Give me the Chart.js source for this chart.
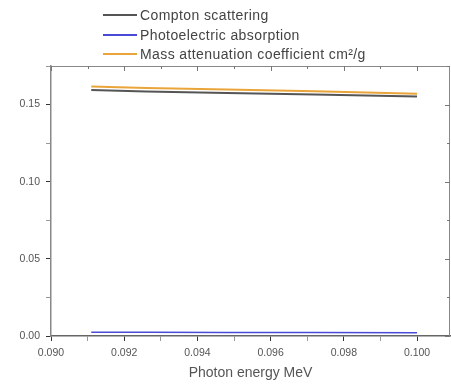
<!DOCTYPE html>
<html>
<head>
<meta charset="utf-8">
<script src="https://cdn.jsdelivr.net/npm/chart.js@4"></script>
<style>
  html, body { margin: 0; padding: 0; background: #fff; }
  #wrap { position: relative; width: 451px; height: 386px; }
  #legend { position: absolute; left: 103px; top: 6px; font-family: 'Liberation Sans', Arial, sans-serif; font-size: 14px; letter-spacing: 0.4px; color: #444; }
  #legend div { height: 19.5px; line-height: 19.5px; white-space: nowrap; }
  #legend span.ln { display: inline-block; width: 34px; height: 2px; vertical-align: middle; margin-right: 3px; position: relative; top: -1px; }
</style>
</head>
<body>
<div id="wrap">
  <canvas id="chart" width="451" height="386"></canvas>
  <div id="legend"></div>
</div>
<script>
const energy = [0.0911, 0.0926, 0.0948, 0.0972, 0.1000];
const compton = [0.1595, 0.1585, 0.1575, 0.1565, 0.1552];
const photoelectric = [0.0025, 0.0024, 0.0023, 0.0022, 0.0021];
const massAtten = [0.1617, 0.1608, 0.1598, 0.1586, 0.1570];

const seriesNames = ['Compton scattering', 'Photoelectric absorption', 'Mass attenuation coefficient cm²/g'];
const seriesColors = ['#555555', '#4a4ad8', '#eaa53a'];

const xTicks = [0.090, 0.092, 0.094, 0.096, 0.098, 0.100];
const yTicks = [0.00, 0.05, 0.10, 0.15];

function pts(ys) {
  return energy.map((x, i) => ({ x: x, y: ys[i] }));
}

document.addEventListener('DOMContentLoaded', () => {
  const legend = document.getElementById('legend');
  seriesNames.forEach((name, i) => {
    legend.insertAdjacentHTML('beforeend',
      `<div><span class="ln" style="background-color:${seriesColors[i]}"></span>${name}</div>`);
  });
  drawChart();
});

// frame round the plot area with top/right ticks
const framePlugin = {
  id: 'frame',
  afterDraw(chart) {
    const { ctx, chartArea: a, scales } = chart;
    ctx.save();
    ctx.strokeStyle = '#888';
    ctx.lineWidth = 1;
    ctx.beginPath();
    ctx.moveTo(a.left, a.top + 0.5);
    ctx.lineTo(a.right, a.top + 0.5);
    ctx.moveTo(a.right - 0.5, a.top);
    ctx.lineTo(a.right - 0.5, a.bottom);
    ctx.stroke();
    ctx.strokeStyle = '#777';
    ctx.beginPath();
    scales.x.ticks.forEach(t => {
      const px = Math.round(scales.x.getPixelForValue(t.value)) + 0.5;
      const major = isMajor(xTicks, t.value);
      ctx.moveTo(px, a.top);
      ctx.lineTo(px, a.top + (major ? 5 : 3));
    });
    scales.y.ticks.forEach(t => {
      const py = Math.round(scales.y.getPixelForValue(t.value)) + 0.5;
      const major = isMajor(yTicks, t.value);
      ctx.moveTo(a.right, py);
      ctx.lineTo(a.right - (major ? 5 : 3), py);
    });
    ctx.stroke();
    ctx.restore();
  }
};

function isMajor(list, v) {
  return list.some(t => Math.abs(t - v) < 1e-6);
}

function drawChart() {
  const ctx = document.getElementById('chart').getContext('2d');
  new Chart(ctx, {
    type: 'line',
    data: {
      datasets: [
        { label: seriesNames[0], data: pts(compton), borderColor: seriesColors[0], borderWidth: 2, pointRadius: 0, tension: 0 },
        { label: seriesNames[1], data: pts(photoelectric), borderColor: seriesColors[1], borderWidth: 1.5, pointRadius: 0, tension: 0 },
        { label: seriesNames[2], data: pts(massAtten), borderColor: seriesColors[2], borderWidth: 2, pointRadius: 0, tension: 0 }
      ]
    },
    options: {
      responsive: false,
      animation: false,
      layout: { padding: { top: 66, right: 1, left: 0, bottom: 0 } },
      plugins: { legend: { display: false }, tooltip: { enabled: false } },
      scales: {
        x: {
          type: 'linear',
          min: 0.090,
          max: 0.1009,
          afterFit: s => { s.height = 50; },
          border: { color: '#666', width: 1.5 },
          grid: {
            drawOnChartArea: false,
            tickLength: 5,
            tickColor: c => isMajor(xTicks, c.tick.value) ? '#333' : '#999'
          },
          ticks: {
            stepSize: 0.001,
            includeBounds: false,
            maxRotation: 0,
            autoSkip: false,
            padding: 6,
            color: '#555',
            font: { family: 'Liberation Sans', size: 10.5 },
            callback: v => isMajor(xTicks, v) ? v.toFixed(3) : ''
          },
          title: {
            display: true,
            text: 'Photon energy MeV',
            color: '#555',
            padding: { top: 2 },
            font: { family: 'Liberation Sans', size: 14 }
          }
        },
        y: {
          min: 0,
          max: 0.175,
          afterFit: s => { s.width = 51; },
          border: { color: '#888', width: 1.5 },
          grid: {
            drawOnChartArea: false,
            tickLength: 5,
            tickColor: c => isMajor(yTicks, c.tick.value) ? '#333' : '#999'
          },
          ticks: {
            stepSize: 0.025,
            autoSkip: false,
            padding: 6,
            color: '#555',
            font: { family: 'Liberation Sans', size: 10.5 },
            callback: v => isMajor(yTicks, v) ? v.toFixed(2) : ''
          }
        }
      }
    },
    plugins: [framePlugin]
  });
}
</script>
</body>
</html>
